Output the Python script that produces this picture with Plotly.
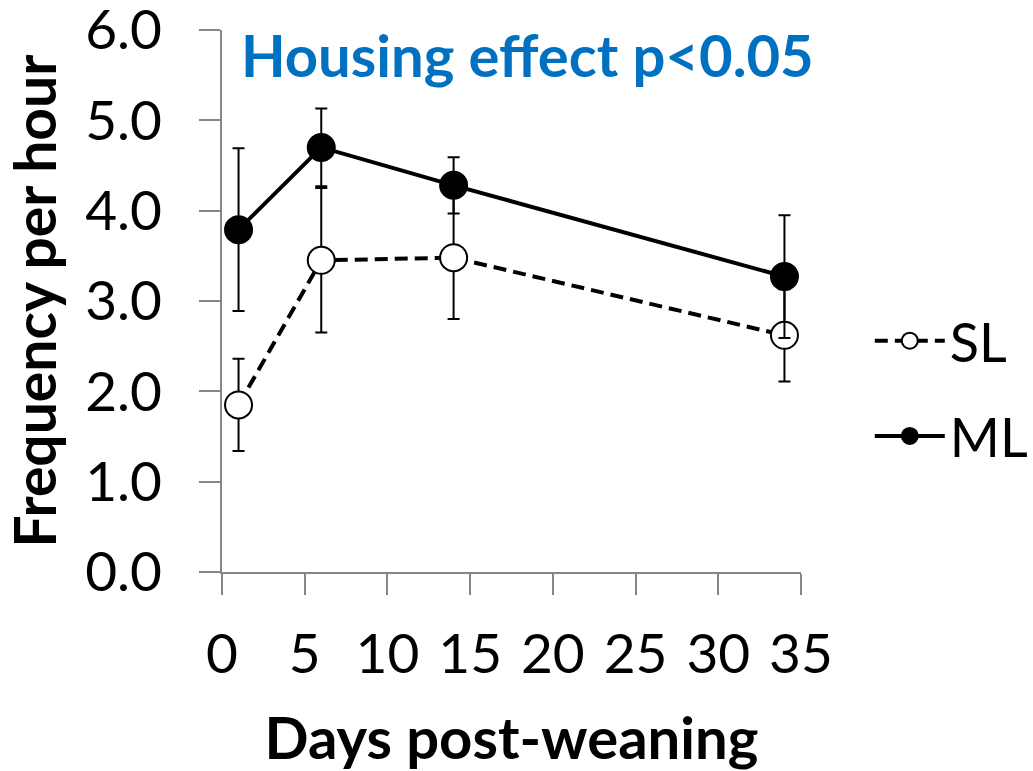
import plotly.graph_objects as go

days = [1, 6, 14, 34]
sl_mean = [1.85, 3.45, 3.48, 2.62]
sl_err = [0.51, 0.80, 0.68, 0.51]
ml_mean = [3.79, 4.70, 4.28, 3.27]
ml_err = [0.90, 0.43, 0.31, 0.68]
x_ticks = [0, 5, 10, 15, 20, 25, 30, 35]
y_ticks = [0, 1, 2, 3, 4, 5, 6]

FONT = "Lato"
fig = go.Figure()

fig.add_trace(go.Scatter(
    x=days, y=sl_mean, name="SL", mode="lines+markers", legendgroup="sl",
    line=dict(color="black", width=4, dash="13px,7px"),
    marker=dict(size=27, color="white", line=dict(color="black", width=2)),
    error_y=dict(type="data", array=sl_err, color="black", thickness=2, width=6),
))
fig.add_trace(go.Scatter(
    x=days, y=ml_mean, name="ML", mode="lines+markers", legendgroup="ml",
    line=dict(color="black", width=4),
    marker=dict(size=27, color="black", line=dict(color="black", width=2)),
    error_y=dict(type="data", array=ml_err, color="black", thickness=2, width=6),
))

axis_common = dict(
    showgrid=False, zeroline=False, showline=True, linecolor="#868686", linewidth=2,
    ticks="outside", ticklen=21, tickwidth=2, tickcolor="#868686", automargin=False,
    ticklabeloverflow="allow",
    tickfont=dict(family=FONT, size=55, color="black"),
)
fig.update_xaxes(range=[0, 35], tickvals=x_ticks, ticktext=[str(v) for v in x_ticks],
                 title=dict(text="<b>Days post-weaning</b>", font=dict(family=FONT, size=58, color="black"), standoff=34),
                 ticklabelstandoff=12, **axis_common)
fig.update_yaxes(range=[0, 6], tickvals=y_ticks, ticktext=[f"{v:.1f}" for v in y_ticks],
                 title=dict(text="<b>Frequency per hour</b>", font=dict(family=FONT, size=57, color="black"), standoff=18),
                 ticklabelstandoff=26, **axis_common)

fig.add_annotation(text="<b>Housing effect p<0.05</b>", xref="paper", yref="paper",
                   x=0.527, y=0.954, xanchor="center", yanchor="middle", showarrow=False,
                   font=dict(family=FONT, size=58, color="#0070C0"))

fig.update_layout(
    width=1033, height=771, margin=dict(l=222, r=232, t=30, b=199, autoexpand=False),
    paper_bgcolor="white", plot_bgcolor="white",
    showlegend=True,
    legend=dict(xref="container", yref="container", x=0.842, y=0.496,
                xanchor="left", yanchor="middle", itemwidth=70,
                tracegroupgap=22,
                font=dict(family=FONT, size=54, color="black"), bgcolor="rgba(0,0,0,0)"),
)

fig.write_html("out.html", config={"displayModeBar": False},
               post_script="document.body.style.margin='0';document.body.style.padding='0';document.documentElement.style.overflow='hidden';")
